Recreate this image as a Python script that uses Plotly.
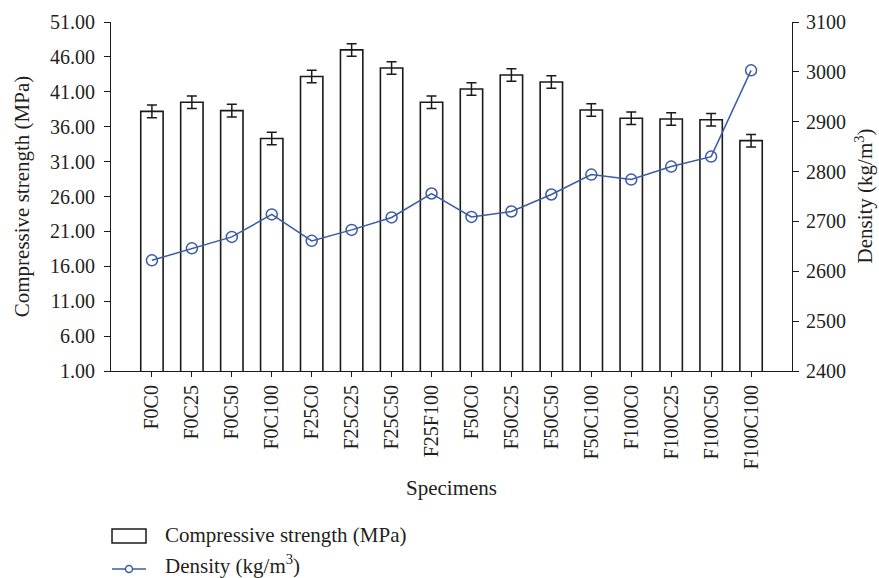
import plotly.graph_objects as go

specimens = ["F0C0", "F0C25", "F0C50", "F0C100", "F25C0", "F25C25", "F25C50", "F25F100",
             "F50C0", "F50C25", "F50C50", "F50C100", "F100C0", "F100C25", "F100C50", "F100C100"]
strength = [38.2, 39.5, 38.3, 34.3, 43.2, 47.0, 44.4, 39.5,
            41.4, 43.4, 42.4, 38.4, 37.2, 37.1, 37.0, 34.0]
strength_err = [0.9] * 16
density = [2622, 2646, 2669, 2714, 2661, 2683, 2708, 2756,
           2709, 2720, 2754, 2794, 2784, 2810, 2830, 3003]

left_ticks = [1, 6, 11, 16, 21, 26, 31, 36, 41, 46, 51]
right_ticks = [2400, 2500, 2600, 2700, 2800, 2900, 3000, 3100]

FONT = "Liberation Serif"
TXT = "#231f20"
AXC = "#1a1a1a"
BLUE = "#3a5ba9"
TICK_FS = 20
TITLE_FS = 21

fig = go.Figure()
fig.add_trace(go.Bar(
    x=specimens, y=strength, name="Compressive strength (MPa)",
    marker=dict(color="white", line=dict(color=AXC, width=1.6)),
    error_y=dict(type="data", array=strength_err, color=AXC, thickness=1.5, width=5),
    showlegend=False,
))
fig.add_trace(go.Scatter(
    x=specimens, y=density, name="Density (kg/m³)", yaxis="y2", mode="lines+markers",
    line=dict(color=BLUE, width=1.5),
    marker=dict(symbol="circle-open", size=11, color=BLUE, line=dict(width=1.5, color=BLUE)),
    showlegend=False,
))

fig.update_layout(
    width=879, height=578,
    margin=dict(l=111, r=87, t=22, b=207),
    paper_bgcolor="white", plot_bgcolor="white",
    font=dict(family=FONT, size=TICK_FS, color=TXT),
    bargap=0.44,
    xaxis=dict(
        type="category", showline=True, linecolor=AXC, linewidth=1.2,
        ticks="outside", ticklen=5, tickcolor=AXC, tickangle=-90,
        showgrid=False, zeroline=False,
        title=dict(text="Specimens", font=dict(size=TITLE_FS), standoff=11),
    ),
    yaxis=dict(
        range=[1, 51], tickvals=left_ticks, ticktext=[f"{v:.2f}" for v in left_ticks],
        showline=True, linecolor=AXC, linewidth=1.2,
        ticks="outside", ticklen=6, tickcolor=AXC, ticklabelstandoff=5,
        showgrid=False, zeroline=False,
        title=dict(text="Compressive strength (MPa)", font=dict(size=TITLE_FS), standoff=14),
    ),
    yaxis2=dict(
        overlaying="y", side="right",
        range=[2400, 3100], tickvals=right_ticks,
        showline=True, linecolor=AXC, linewidth=1.2,
        ticks="outside", ticklen=6, tickcolor=AXC, ticklabelstandoff=3,
        showgrid=False, zeroline=False,
    ),
    showlegend=False,
)

# right-hand axis title
fig.add_annotation(
    text="Density (kg/m<sup>3</sup>)", xref="paper", yref="paper",
    x=1.0, y=0.5, xshift=72, textangle=-90, showarrow=False,
    font=dict(size=TITLE_FS, color=TXT), xanchor="center", yanchor="middle",
)

# legend drawn below the plot
def px_x(p):
    return (p - 111) / 681

def px_y(p):
    return (371 - p) / 349

fig.add_shape(type="rect", xref="paper", yref="paper",
              x0=px_x(112), x1=px_x(146), y0=px_y(529), y1=px_y(543),
              line=dict(color=AXC, width=1.5), fillcolor="white")
fig.add_shape(type="line", xref="paper", yref="paper",
              x0=px_x(112), x1=px_x(146), y0=px_y(569), y1=px_y(569),
              line=dict(color=BLUE, width=1.5))
fig.add_shape(type="circle", xref="paper", yref="paper",
              x0=px_x(125.5), x1=px_x(132.5), y0=px_y(565.5), y1=px_y(572.5),
              line=dict(color=BLUE, width=1.5), fillcolor="white")
fig.add_annotation(text="Compressive strength (MPa)", xref="paper", yref="paper",
                   x=px_x(163), y=px_y(535), xanchor="left", yanchor="middle",
                   showarrow=False, font=dict(size=TITLE_FS, color=TXT))
fig.add_annotation(text="Density (kg/m<sup>3</sup>)", xref="paper", yref="paper",
                   x=px_x(163), y=px_y(564), xanchor="left", yanchor="middle",
                   showarrow=False, font=dict(size=TITLE_FS, color=TXT))

fig.write_html("out.html")
